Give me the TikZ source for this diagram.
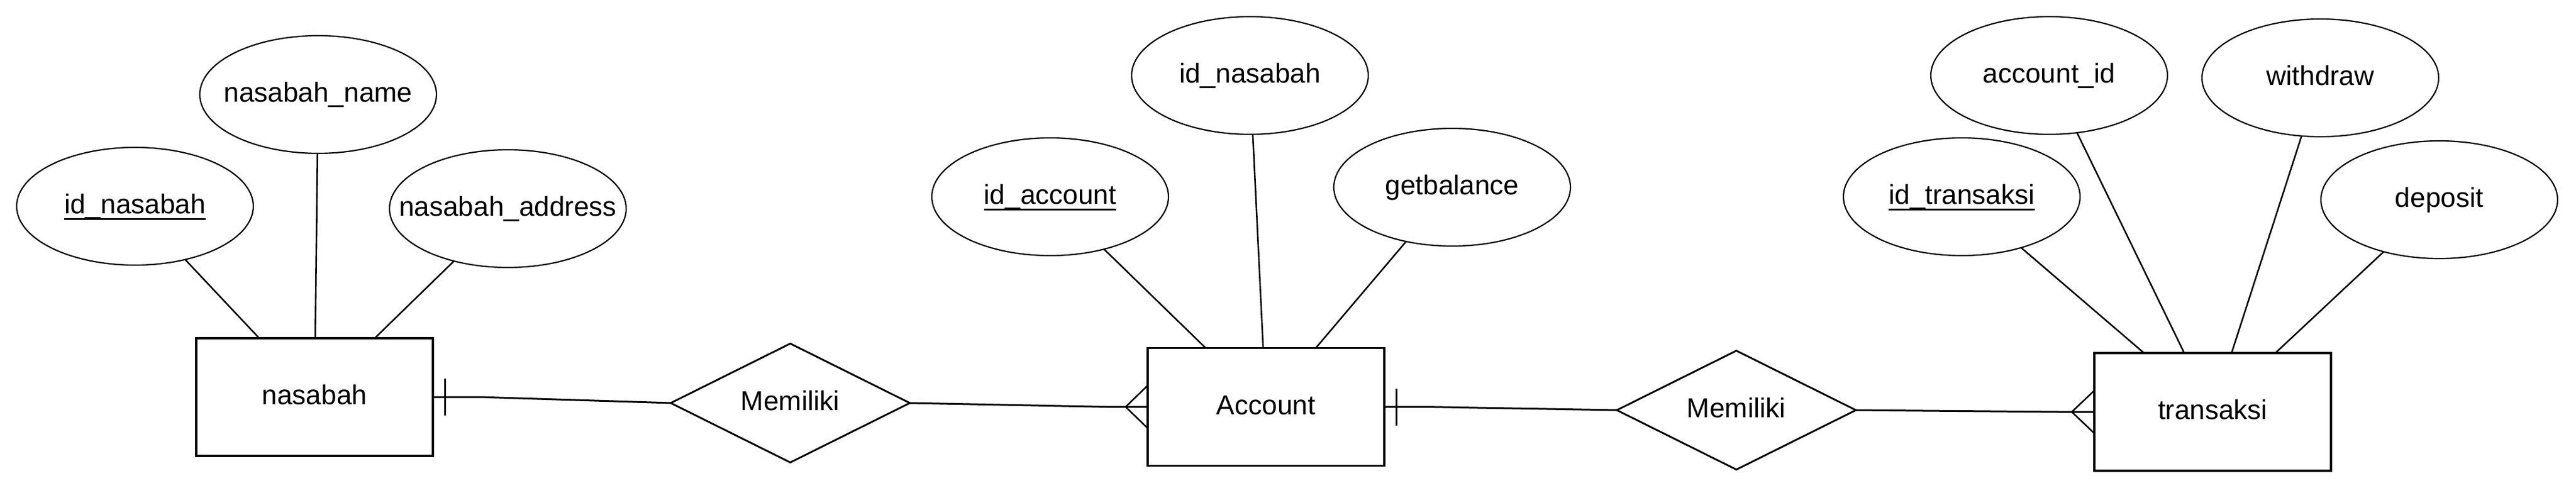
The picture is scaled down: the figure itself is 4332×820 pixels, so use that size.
\documentclass[tikz,border=0pt]{standalone}
\usepackage{fontspec}
\setmainfont{Liberation Sans}
\usetikzlibrary{shapes.geometric}
\newcommand\ztext[1]{\makebox[0pt][c]{#1}}
\newsavebox\keybox
\newcommand\keyattr[1]{\sbox\keybox{#1}\rlap{\rule[-10.3pt]{\wd\keybox}{2.6pt}}\usebox\keybox}
\begin{document}
\begin{tikzpicture}[x=1pt,y=1pt,
  every node/.style={font=\fontsize{46}{55}\selectfont, text height=34.5pt, text depth=9.5pt, inner sep=0pt, outer sep=0pt},
  attr/.style={ellipse, draw, line width=2.2pt, minimum width=398pt, minimum height=198pt},
  entity/.style={rectangle, draw, line width=3.5pt, minimum width=398pt, minimum height=198pt},
  rel/.style={diamond, draw, line width=3pt, minimum width=402pt, minimum height=200pt, aspect=2},
  alink/.style={line width=2.6pt},
  rlink/.style={line width=3pt},
]
\fill[white] (0,0) rectangle (4332,-820);
\useasboundingbox (0,0) rectangle (4332,-820);

% entities
\node[entity] (nasabah) at (529,-668) {\ztext{nasabah}};
\node[entity] (account) at (2129,-684.5) {\ztext{Account}};
\node[entity] (transaksi) at (3721,-693) {\ztext{transaksi}};

% relationships
\node[rel] (r1) at (1329,-678) {\ztext{Memiliki}};
\node[rel] (r2) at (2920,-690) {\ztext{Memiliki}};

% attributes
\node[attr] (a1) at (227,-347) {\ztext{\keyattr{id\_nasabah}}};
\node[attr] (a2) at (535,-159) {\ztext{nasabah\_name}};
\node[attr] (a3) at (854,-351) {\ztext{nasabah\_address}};
\node[attr] (b1) at (1766,-331) {\ztext{\keyattr{id\_account}}};
\node[attr] (b2) at (2102,-127) {\ztext{id\_nasabah}};
\node[attr] (b3) at (2442,-315) {\ztext{getbalance}};
\node[attr] (c1) at (3299,-331) {\ztext{\keyattr{id\_transaksi}}};
\node[attr] (c2) at (3446,-127) {\ztext{account\_id}};
\node[attr] (c3) at (3902,-131) {\ztext{withdraw}};
\node[attr] (c4) at (4102,-336) {\ztext{deposit}};

% attribute links
\draw[alink] (a1) -- (nasabah);
\draw[alink] (a2) -- (nasabah);
\draw[alink] (a3) -- (nasabah);
\draw[alink] (b1) -- (account);
\draw[alink] (b2) -- (account);
\draw[alink] (b3) -- (account);
\draw[alink] (c1) -- (transaksi);
\draw[alink] (c2) -- (transaksi);
\draw[alink] (c3) -- (transaksi);
\draw[alink] (c4) -- (transaksi);

% relationship links
\draw[rlink] (nasabah.east) -- ([xshift=80pt]nasabah.east) -- (r1.west);
\draw[rlink] (r1.east) -- ([xshift=-68pt]account.west) -- (account.west);
\draw[rlink] (account.east) -- ([xshift=70pt]account.east) -- (r2.west);
\draw[rlink] (r2.east) -- ([xshift=-60pt]transaksi.west) -- (transaksi.west);

% cardinality marks
\draw[rlink] ([xshift=20pt,yshift=31pt]nasabah.east) -- ([xshift=20pt,yshift=-31pt]nasabah.east);
\draw[alink] ([yshift=36pt]account.west) -- ([xshift=-37pt]account.west) -- ([yshift=-36pt]account.west);
\draw[rlink] ([xshift=20pt,yshift=31pt]account.east) -- ([xshift=20pt,yshift=-31pt]account.east);
\draw[alink] ([yshift=36pt]transaksi.west) -- ([xshift=-38pt]transaksi.west) -- ([yshift=-36pt]transaksi.west);
\end{tikzpicture}
\end{document}
